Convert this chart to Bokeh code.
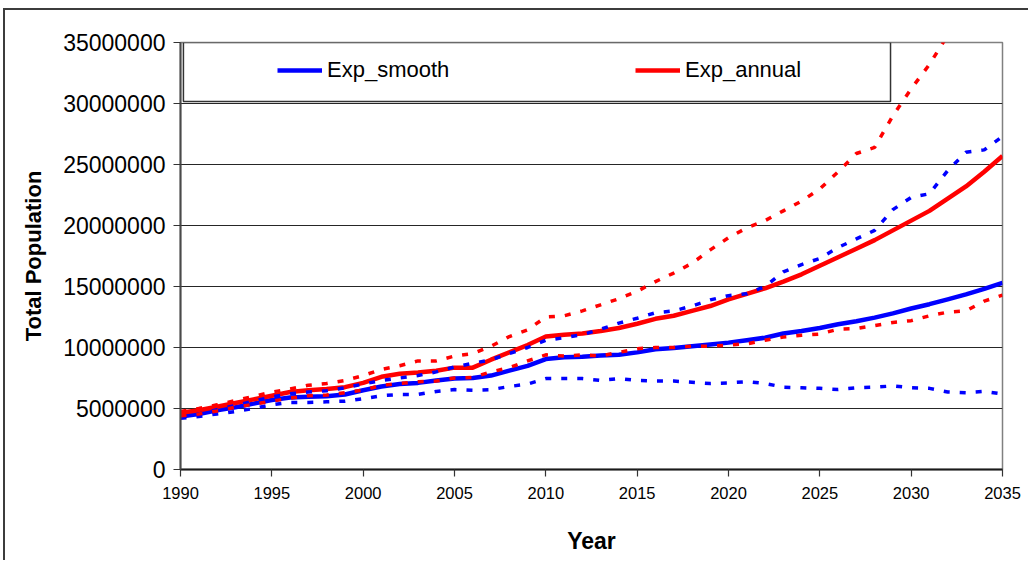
from bokeh.plotting import figure
from bokeh.models import Range1d, FixedTicker, Legend, LegendItem, BoxAnnotation
from bokeh.embed import file_html
from bokeh.resources import INLINE

# Total population projections, in millions, 1990-2035
years = list(range(1990, 2036))

exp_smooth = [4.35, 4.55, 4.85, 5.1, 5.4, 5.7, 5.9, 5.97, 6.0, 6.15,
              6.5, 6.8, 7.0, 7.1, 7.3, 7.45, 7.5, 7.7, 8.1, 8.5,
              9.05, 9.2, 9.25, 9.35, 9.4, 9.6, 9.85, 9.95, 10.1, 10.25,
              10.4, 10.6, 10.8, 11.15, 11.35, 11.6, 11.9, 12.15, 12.45, 12.8,
              13.2, 13.55, 13.95, 14.35, 14.8, 15.3]

exp_smooth_upper = [4.3, 4.55, 4.9, 5.25, 5.6, 5.95, 6.2, 6.35, 6.45, 6.7,
                    7.0, 7.3, 7.5, 7.7, 8.0, 8.4, 8.7, 9.0, 9.5, 10.0,
                    10.6, 10.8, 11.05, 11.5, 12.0, 12.4, 12.85, 13.0, 13.4, 13.9,
                    14.25, 14.4, 15.0, 16.2, 16.8, 17.3, 18.2, 18.9, 19.6, 21.3,
                    22.3, 22.6, 24.5, 26.0, 26.2, 27.3]

exp_smooth_lower = [4.2, 4.35, 4.55, 4.75, 5.0, 5.3, 5.5, 5.5, 5.55, 5.6,
                    5.8, 6.05, 6.15, 6.15, 6.4, 6.55, 6.5, 6.55, 6.8, 7.0,
                    7.45, 7.45, 7.45, 7.3, 7.45, 7.3, 7.25, 7.25, 7.15, 7.05,
                    7.1, 7.2, 7.05, 6.75, 6.7, 6.65, 6.55, 6.7, 6.75, 6.85,
                    6.7, 6.65, 6.35, 6.3, 6.4, 6.2]

exp_annual = [4.65, 4.85, 5.15, 5.45, 5.75, 6.05, 6.35, 6.5, 6.6, 6.75,
              7.1, 7.6, 7.85, 7.95, 8.1, 8.35, 8.35, 9.0, 9.6, 10.2,
              10.9, 11.05, 11.15, 11.35, 11.6, 11.95, 12.35, 12.6, 13.0, 13.4,
              13.95, 14.4, 14.85, 15.4, 16.0, 16.7, 17.4, 18.1, 18.8, 19.6,
              20.4, 21.2, 22.2, 23.2, 24.4, 25.7]

nan = float("nan")
exp_annual_upper = [4.75, 5.0, 5.3, 5.65, 6.0, 6.35, 6.6, 6.9, 7.05, 7.3,
                    7.7, 8.2, 8.5, 8.9, 8.9, 9.3, 9.5, 10.1, 10.9, 11.45,
                    12.5, 12.6, 13.0, 13.5, 14.0, 14.6, 15.4, 16.1, 16.9, 18.0,
                    19.0, 19.8, 20.4, 21.2, 22.0, 23.0, 24.4, 25.9, 26.4, 29.0,
                    31.2, 33.2, 35.6, nan, nan, nan]

exp_annual_lower = [4.4, 4.55, 4.8, 5.1, 5.35, 5.6, 5.85, 6.05, 6.1, 6.3,
                    6.5, 6.9, 7.05, 7.2, 7.25, 7.5, 7.55, 8.0, 8.35, 8.9,
                    9.4, 9.3, 9.4, 9.3, 9.6, 9.9, 10.0, 10.0, 10.1, 10.1,
                    10.2, 10.3, 10.6, 10.85, 11.0, 11.1, 11.5, 11.55, 11.8, 12.05,
                    12.2, 12.6, 12.9, 13.0, 13.8, 14.3]

x_ticks = [1990, 1995, 2000, 2005, 2010, 2015, 2020, 2025, 2030, 2035]
y_ticks = [0, 5000000, 10000000, 15000000, 20000000, 25000000, 30000000, 35000000]
y_tick_labels = ["0", "5000000", "10000000", "15000000", "20000000",
                 "25000000", "30000000", "35000000"]

MILLION = 1_000_000


def people(series):
    return [v * MILLION for v in series]


FONT = "Liberation Sans"
BLUE = "#0000ff"
RED = "#ff0000"

p = figure(width=1025, height=552,
           x_range=Range1d(1990, 2035), y_range=Range1d(0, 35_000_000),
           output_backend="svg", toolbar_location=None,
           min_border_left=175, min_border_right=28,
           min_border_top=32, min_border_bottom=93,
           margin=(8, 0, 0, 3),
           styles={"border-top": "2px solid #3c3c3c",
                   "border-left": "2px solid #3c3c3c"})

p.background_fill_color = "white"
p.border_fill_color = "white"
p.outline_line_color = "#808080"
p.outline_line_width = 1.5

# axes
p.xaxis.ticker = FixedTicker(ticks=x_ticks)
p.yaxis.ticker = FixedTicker(ticks=y_ticks)
p.yaxis.major_label_overrides = {t: s for t, s in zip(y_ticks, y_tick_labels)}
p.xaxis.major_label_overrides = {t: str(t) for t in x_ticks}

for ax in (p.xaxis, p.yaxis):
    ax.minor_tick_line_color = None
    ax.major_tick_in = 0
    ax.major_tick_out = 7
    ax.major_tick_line_color = "#333333"
    ax.major_tick_line_width = 1.2
    ax.axis_line_width = 2
    ax.major_label_text_font = FONT
    ax.major_label_text_color = "black"
    ax.axis_label_text_font = FONT
    ax.axis_label_text_font_style = "bold"
    ax.axis_label_text_color = "black"

p.xaxis.axis_line_color = "#1a1a1a"
p.yaxis.axis_line_color = "#4a4a4a"
p.xaxis.major_label_text_font_size = "16.5px"
p.yaxis.major_label_text_font_size = "23px"
p.xaxis.major_label_standoff = 10
p.yaxis.major_label_standoff = 8

p.xaxis.axis_label = "Year"
p.xaxis.axis_label_text_font_size = "23px"
p.xaxis.axis_label_standoff = 26
p.yaxis.axis_label = "Total Population"
p.yaxis.axis_label_text_font_size = "22px"
p.yaxis.axis_label_standoff = 14

p.xgrid.grid_line_color = None
p.ygrid.grid_line_color = "#262626"
p.ygrid.grid_line_width = 1

# series
dash = "6 10"
r_smooth = p.line(years, people(exp_smooth), line_color=BLUE, line_width=4.5)
r_annual = p.line(years, people(exp_annual), line_color=RED, line_width=4.5)
p.line(years, people(exp_smooth_upper), line_color=BLUE, line_width=3.5, line_dash=dash)
p.line(years, people(exp_smooth_lower), line_color=BLUE, line_width=3.5, line_dash=dash)
p.line(years, people(exp_annual_upper), line_color=RED, line_width=3.5, line_dash=dash)
p.line(years, people(exp_annual_lower), line_color=RED, line_width=3.5, line_dash=dash)

# legend frame
box = BoxAnnotation(left=1990.16, right=2028.87, bottom=30_160_000, top=35_000_000,
                    fill_color="white", fill_alpha=1.0,
                    line_color="#333333", line_alpha=1.0, line_width=1.5)
p.add_layout(box)

legend = Legend(items=[LegendItem(label="Exp_smooth", renderers=[r_smooth]),
                       LegendItem(label="Exp_annual", renderers=[r_annual])],
                orientation="horizontal", location=(89, 378),
                padding=8, spacing=8, margin=0,
                label_width=300, label_height=26,
                glyph_width=45, glyph_height=26, label_standoff=5,
                label_text_font=FONT, label_text_font_size="22px",
                label_text_color="black",
                border_line_alpha=0, background_fill_alpha=0)
p.add_layout(legend)

open("out.html", "w").write(file_html(p, INLINE))
